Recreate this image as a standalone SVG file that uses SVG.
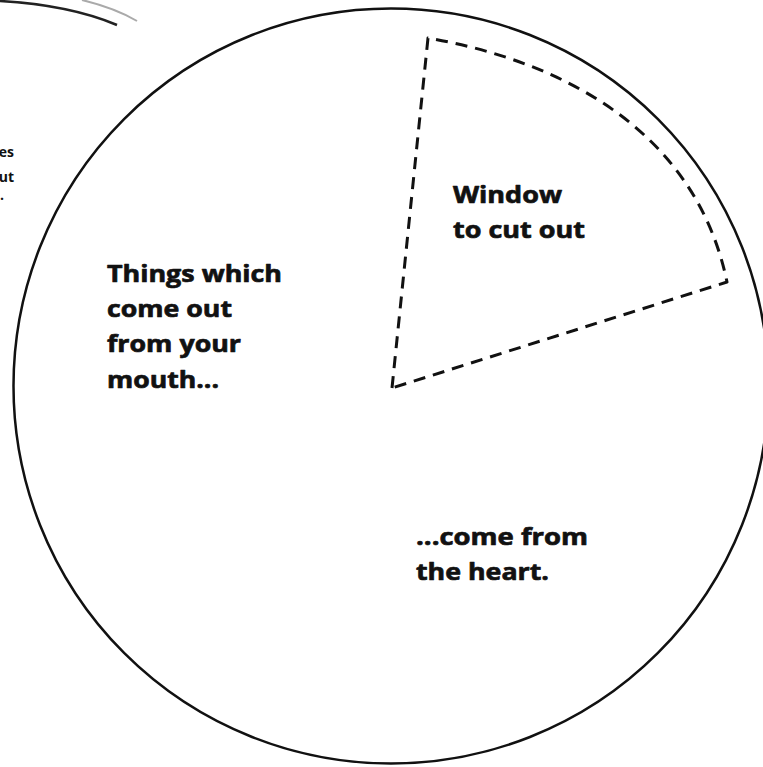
<svg xmlns="http://www.w3.org/2000/svg" width="763" height="767" viewBox="0 0 763 767">
<style>
.lbl{font-family:"Open Sans","Liberation Sans",sans-serif;font-weight:bold;font-size:24px;fill:#111;stroke:#111;stroke-width:0.7;stroke-linejoin:round}
.small{font-family:"Open Sans","Liberation Sans",sans-serif;font-weight:bold;font-size:14px;fill:#111}
.dash{fill:none;stroke:#111;stroke-width:3;stroke-dasharray:12 8;stroke-linejoin:round}
</style>
<rect width="763" height="767" fill="#fff"/>
<g id="neighbor">
<path d="M0 1 Q70 5 117 25" fill="none" stroke="#222" stroke-width="2.5"/>
<path d="M82 0 Q115 8 137 21" fill="none" stroke="#aaa" stroke-width="2"/>
<text class="small" x="14" y="157" text-anchor="end">es</text>
<text class="small" x="14" y="182" text-anchor="end">ut</text>
<text class="small" x="0" y="200">.</text>
</g>
<g id="wheel">
<circle cx="391" cy="386" r="377.5" fill="none" stroke="#111" stroke-width="2.5"/>
</g>
<g id="window">
<path class="dash" d="M392 388 L428 38 C566 62 696 133 727 282 Z"/>
<text class="lbl" x="453" y="203" textLength="109" lengthAdjust="spacingAndGlyphs">Window</text>
<text class="lbl" x="453" y="238" textLength="132" lengthAdjust="spacingAndGlyphs">to cut out</text>
</g>
<g id="mouth">
<text class="lbl" x="107" y="282" textLength="175" lengthAdjust="spacingAndGlyphs">Things which</text>
<text class="lbl" x="107" y="317" textLength="125" lengthAdjust="spacingAndGlyphs">come out</text>
<text class="lbl" x="107" y="352" textLength="134" lengthAdjust="spacingAndGlyphs">from your</text>
<text class="lbl" x="107" y="388" textLength="112" lengthAdjust="spacingAndGlyphs">mouth...</text>
</g>
<g id="heart">
<text class="lbl" x="416" y="545" textLength="172" lengthAdjust="spacingAndGlyphs">...come from</text>
<text class="lbl" x="416" y="580" textLength="133" lengthAdjust="spacingAndGlyphs">the heart.</text>
</g>
</svg>
